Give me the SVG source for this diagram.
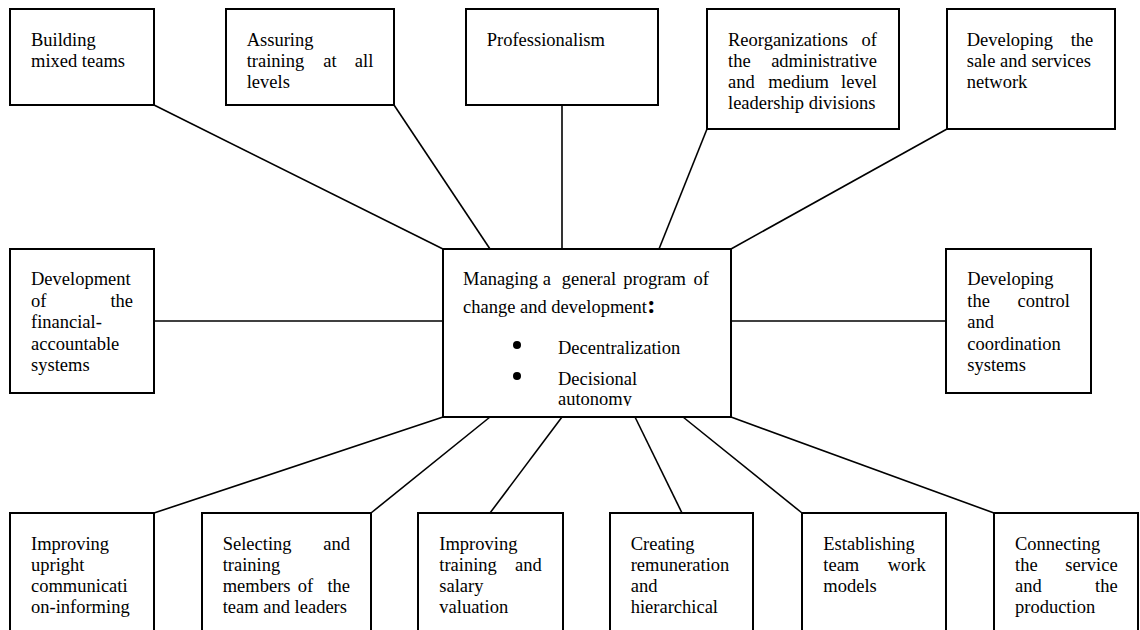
<svg xmlns="http://www.w3.org/2000/svg" width="1140" height="630" viewBox="0 0 1140 630">
<style>
.box{fill:#fff;stroke:#000;stroke-width:2}
.ln{stroke:#000;stroke-width:1.6;fill:none}
text{font-family:"Liberation Serif","Times New Roman",serif;font-size:18.5px;fill:#000}
.e{text-anchor:end}
</style>
<defs>
<clipPath id="cb"><rect x="443" y="249" width="288" height="157"/></clipPath>
</defs>
<rect width="1140" height="630" fill="#fff"/>
<g id="connectors">
<line class="ln" x1="154" y1="105" x2="443" y2="249"/>
<line class="ln" x1="394" y1="105" x2="490" y2="249"/>
<line class="ln" x1="562" y1="105" x2="562" y2="249"/>
<line class="ln" x1="707" y1="129" x2="659" y2="249"/>
<line class="ln" x1="947" y1="129" x2="731" y2="249"/>
<line class="ln" x1="154" y1="321" x2="443" y2="321"/>
<line class="ln" x1="731" y1="321" x2="946" y2="321"/>
<line class="ln" x1="443" y1="417" x2="154" y2="513"/>
<line class="ln" x1="490" y1="417" x2="371" y2="513"/>
<line class="ln" x1="562" y1="417" x2="490" y2="513"/>
<line class="ln" x1="635" y1="417" x2="682" y2="513"/>
<line class="ln" x1="683" y1="417" x2="802" y2="513"/>
<line class="ln" x1="731" y1="417" x2="994" y2="513"/>
</g>
<g id="n-building">
<rect class="box" x="10" y="9" width="144" height="96"/>
<text x="31" y="45.5">Building</text>
<text x="31" y="66.5">mixed teams</text>
</g>
<g id="n-assuring">
<rect class="box" x="226" y="9" width="168" height="96"/>
<text x="246.7" y="45.5">Assuring</text>
<text x="246.7" y="66.5">training</text><text x="323.3" y="66.5">at</text><text class="e" x="373.3" y="66.5">all</text>
<text x="246.7" y="87.5">levels</text>
</g>
<g id="n-prof">
<rect class="box" x="466" y="9" width="192" height="96"/>
<text x="486.7" y="45.5">Professionalism</text>
</g>
<g id="n-reorg">
<rect class="box" x="707" y="9" width="192" height="120"/>
<text x="728" y="45.5">Reorganizations</text><text class="e" x="877" y="45.5">of</text>
<text x="728" y="66.5">the</text><text class="e" x="877" y="66.5">administrative</text>
<text x="728" y="87.5">and</text><text x="768.3" y="87.5">medium</text><text class="e" x="877" y="87.5">level</text>
<text x="728" y="108.5">leadership divisions</text>
</g>
<g id="n-sale">
<rect class="box" x="947" y="9" width="168" height="120"/>
<text x="966.7" y="45.5">Developing</text><text class="e" x="1093.3" y="45.5">the</text>
<text x="966.7" y="66.5">sale and services</text>
<text x="966.7" y="87.5">network</text>
</g>
<g id="n-financial">
<rect class="box" x="10" y="249" width="144" height="144"/>
<text x="31" y="285">Development</text>
<text x="31" y="306.5">of</text><text class="e" x="133" y="306.5">the</text>
<text x="31" y="328">financial-</text>
<text x="31" y="349.5">accountable</text>
<text x="31" y="371">systems</text>
</g>
<g id="n-center">
<rect class="box" x="443" y="249" width="288" height="168"/>
<text x="463" y="285">Managing</text><text x="542.7" y="285">a</text><text x="561.7" y="285">general</text><text x="623.3" y="285">program</text><text class="e" x="709" y="285">of</text>
<text x="463" y="313">change and development<tspan font-size="26px" font-weight="bold">:</tspan></text>
<circle cx="517" cy="345" r="4"/>
<circle cx="517" cy="376" r="4"/>
<text x="558" y="354">Decentralization</text>
<text x="558" y="385">Decisional</text>
<text x="558" y="405" clip-path="url(#cb)">autonomy</text>
</g>
<g id="n-control">
<rect class="box" x="946" y="249" width="145" height="144"/>
<text x="967.3" y="285">Developing</text>
<text x="967.3" y="306.5">the</text><text class="e" x="1070" y="306.5">control</text>
<text x="967.3" y="328">and</text>
<text x="967.3" y="349.5">coordination</text>
<text x="967.3" y="371">systems</text>
</g>
<g id="n-upright">
<rect class="box" x="10" y="513" width="144" height="130"/>
<text x="31" y="549.5">Improving</text>
<text x="31" y="570.5">upright</text>
<text x="31" y="591.5">communicati</text>
<text x="31" y="612.5">on-informing</text>
</g>
<g id="n-selecting">
<rect class="box" x="202" y="513" width="169" height="130"/>
<text x="222.7" y="549.5">Selecting</text><text class="e" x="350" y="549.5">and</text>
<text x="222.7" y="570.5">training</text>
<text x="222.7" y="591.5">members</text><text x="297.7" y="591.5">of</text><text class="e" x="350" y="591.5">the</text>
<text x="222.7" y="612.5">team and leaders</text>
</g>
<g id="n-salary">
<rect class="box" x="418" y="513" width="145" height="130"/>
<text x="439.3" y="549.5">Improving</text>
<text x="439.3" y="570.5">training</text><text class="e" x="541.7" y="570.5">and</text>
<text x="439.3" y="591.5">salary</text>
<text x="439.3" y="612.5">valuation</text>
</g>
<g id="n-remun">
<rect class="box" x="610" y="513" width="143" height="130"/>
<text x="630.7" y="549.5">Creating</text>
<text x="630.7" y="570.5">remuneration</text>
<text x="630.7" y="591.5">and</text>
<text x="630.7" y="612.5">hierarchical</text>
</g>
<g id="n-teamwork">
<rect class="box" x="802" y="513" width="144" height="130"/>
<text x="823.3" y="549.5">Establishing</text>
<text x="823.3" y="570.5">team</text><text class="e" x="925.7" y="570.5">work</text>
<text x="823.3" y="591.5">models</text>
</g>
<g id="n-connecting">
<rect class="box" x="994" y="513" width="144" height="130"/>
<text x="1015" y="549.5">Connecting</text>
<text x="1015" y="570.5">the</text><text class="e" x="1117.7" y="570.5">service</text>
<text x="1015" y="591.5">and</text><text class="e" x="1117.7" y="591.5">the</text>
<text x="1015" y="612.5">production</text>
</g>
</svg>
